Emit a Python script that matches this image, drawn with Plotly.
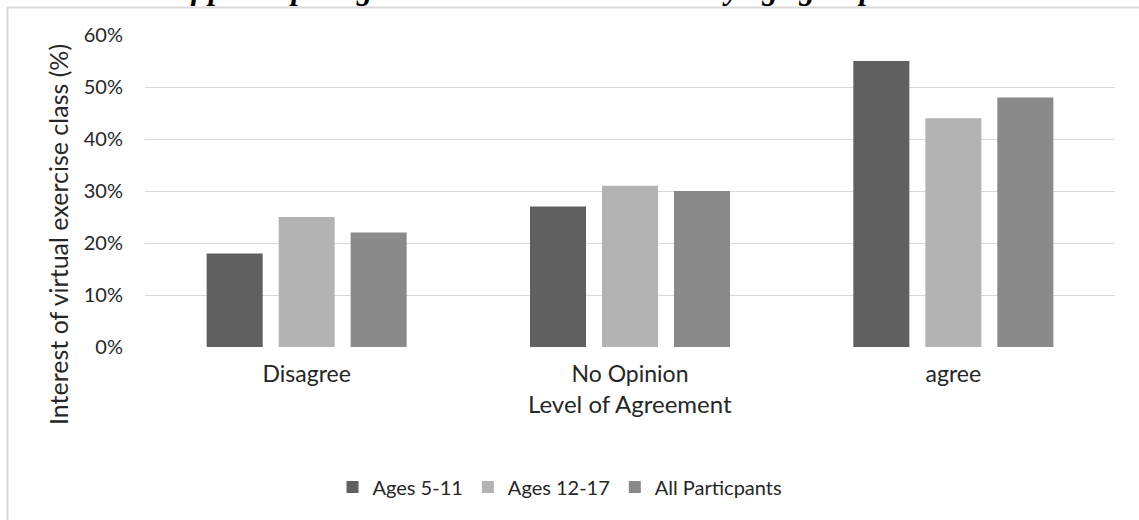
import plotly.graph_objects as go

categories = ["Disagree", "No Opinion", "agree"]
series_names = ["Ages 5-11", "Ages 12-17", "All Particpants"]
ages_5_11 = [18, 27, 55]
ages_12_17 = [25, 31, 44]
all_participants = [22, 30, 48]
series_values = [ages_5_11, ages_12_17, all_participants]
colors = ["#606060", "#b3b3b3", "#8a8a8a"]
y_ticks = [0, 10, 20, 30, 40, 50, 60]
y_tick_labels = ["0%", "10%", "20%", "30%", "40%", "50%", "60%"]

W, H = 1139, 520
L, R, T, B = 145, 1115, 35, 347

def px_x(px):
    return (px - L) / (R - L)

def px_y(py):
    return (B - py) / (B - T)

FONT = "Lato"
TXT = "#262626"

fig = go.Figure()
for name, vals, col in zip(series_names, series_values, colors):
    fig.add_trace(go.Bar(x=categories, y=vals, name=name, marker=dict(color=col, line=dict(width=0))))

fig.update_layout(
    width=W, height=H,
    margin=dict(l=L, r=W - R, t=T, b=H - B, autoexpand=False),
    paper_bgcolor="white", plot_bgcolor="white",
    barmode="group", bargap=0.332, bargroupgap=0.222,
    font=dict(family=FONT, color=TXT),
    showlegend=True,
    legend=dict(orientation="h", x=px_x(560), xanchor="center", y=px_y(487), yanchor="middle",
                font=dict(family=FONT, size=20, color=TXT), itemwidth=30, traceorder="normal"),
)
fig.update_xaxes(showgrid=False, showline=False, zeroline=False, ticks="",
                 tickfont=dict(family=FONT, size=23, color=TXT), ticklabelstandoff=11)
fig.update_yaxes(range=[0, 60], tickmode="array", tickvals=y_ticks, ticktext=y_tick_labels,
                 showgrid=True, gridcolor="#d9d9d9", gridwidth=1.3, zeroline=False, showline=False,
                 ticks="", tickfont=dict(family=FONT, size=20, color=TXT), ticklabelstandoff=21)

# axis titles
fig.add_annotation(text="Interest of virtual exercise class (%)", xref="paper", yref="paper",
                   x=px_x(58), y=px_y(235), xanchor="center", yanchor="middle", textangle=-90,
                   showarrow=False, font=dict(family=FONT, size=25, color=TXT))
fig.add_annotation(text="Level of Agreement", xref="paper", yref="paper",
                   x=px_x(630), y=px_y(403), xanchor="center", yanchor="middle",
                   showarrow=False, font=dict(family=FONT, size=24, color=TXT))
# cut-off document caption above the chart
fig.add_annotation(text="<b><i>Interest level of participating in a virtual exercise class by age group</i></b>",
                   xref="paper", yref="paper", x=px_x(0), y=px_y(7.5), xanchor="left", yanchor="bottom",
                   showarrow=False, font=dict(family="Liberation Serif", size=31, color="#000000"))
# chart frame
fig.add_shape(type="rect", xref="paper", yref="paper", x0=px_x(7.5), y0=px_y(7.5),
              x1=px_x(1300), y1=px_y(700), line=dict(color="#d9d9d9", width=2), layer="below")

fig.write_html("out.html")
